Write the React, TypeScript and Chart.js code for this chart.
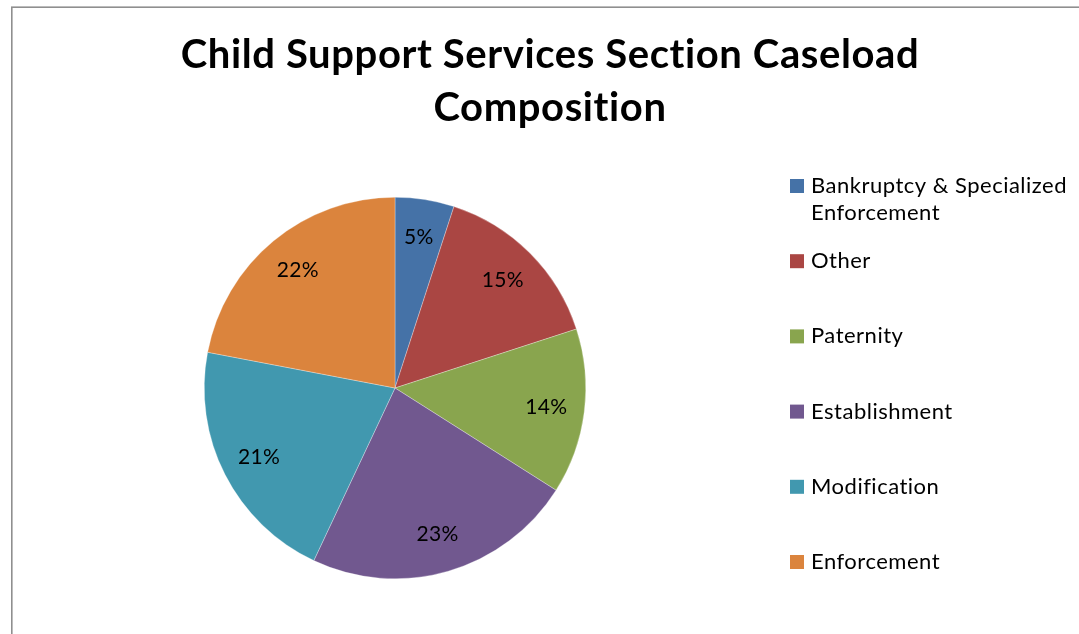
import React, { useEffect, useRef } from "react";
import { Chart, registerables } from "chart.js";

Chart.register(...registerables);

const titleLines = ["Child Support Services Section Caseload", "Composition"];
const categories = [
  "Bankruptcy & Specialized Enforcement",
  "Other",
  "Paternity",
  "Establishment",
  "Modification",
  "Enforcement",
];
const values = [5, 15, 14, 23, 21, 22];
const colors = ["#4572A7", "#AA4643", "#89A54E", "#71588F", "#4198AF", "#DB843D"];

const FONT = "Lato, 'Open Sans', 'DejaVu Sans', sans-serif";

const framePlugin = {
  id: "frame",
  beforeDraw(chart: any) {
    const ctx = chart.ctx;
    ctx.save();
    ctx.fillStyle = "#ffffff";
    ctx.fillRect(0, 0, chart.width, chart.height);
    ctx.strokeStyle = "#8f8f8f";
    ctx.lineWidth = 1.6;
    ctx.strokeRect(11.8, 7.2, 1200, 800);
    ctx.restore();
  },
};

const textPlugin = {
  id: "texts",
  afterDraw(chart: any) {
    const ctx = chart.ctx;
    ctx.save();
    // title
    ctx.fillStyle = "#000000";
    ctx.textAlign = "center";
    ctx.textBaseline = "alphabetic";
    ctx.font = `bold 40px ${FONT}`;
    (ctx as any).letterSpacing = "0.6px";
    titleLines.forEach((t, i) => ctx.fillText(t, 550, 68 + i * 53));

    // data labels
    const meta = chart.getDatasetMeta(0);
    const data = chart.data.datasets[0].data as number[];
    const total = data.reduce((a, b) => a + b, 0);
    ctx.font = `21px ${FONT}`;
    (ctx as any).letterSpacing = "0.3px";
    ctx.textBaseline = "middle";
    meta.data.forEach((arc: any, i: number) => {
      const p = arc.getProps(["x", "y", "startAngle", "endAngle", "outerRadius"], true);
      const mid = (p.startAngle + p.endAngle) / 2;
      const r = p.outerRadius * 0.8;
      const pct = Math.round((data[i] / total) * 100);
      ctx.fillText(pct + "%", p.x + Math.cos(mid) * r, p.y + Math.sin(mid) * r);
    });

    // legend
    const labels = chart.data.labels as string[];
    const bg = chart.data.datasets[0].backgroundColor as string[];
    ctx.font = `22px ${FONT}`;
    (ctx as any).letterSpacing = "0.5px";
    ctx.textAlign = "left";
    const startY = 186;
    const step = 75.2;
    const maxW = 265;
    labels.forEach((lab, i) => {
      const y = startY + i * step;
      ctx.fillStyle = bg[i];
      ctx.fillRect(790, y - 7, 14, 14);
      ctx.fillStyle = "#000000";
      const words = lab.split(" ");
      const lines: string[] = [];
      let cur = "";
      words.forEach((w) => {
        const test = cur ? cur + " " + w : w;
        if (ctx.measureText(test).width > maxW && cur) {
          lines.push(cur);
          cur = w;
        } else cur = test;
      });
      lines.push(cur);
      lines.forEach((ln, k) => ctx.fillText(ln, 811, y + k * 27));
    });
    ctx.restore();
  },
};

export default function App() {
  const ref = useRef<HTMLCanvasElement>(null);
  useEffect(() => {
    if (!ref.current) return;
    const chart = new Chart(ref.current, {
      type: "pie",
      data: {
        labels: categories,
        datasets: [
          {
            data: values,
            backgroundColor: colors,
            borderColor: "rgba(255,255,255,0.6)",
            borderWidth: 0.5,
          },
        ],
      },
      options: {
        responsive: false,
        animation: false,
        devicePixelRatio: 1,
        layout: { padding: { left: 204, right: 493, top: 197, bottom: 55 } },
        plugins: {
          legend: { display: false },
          title: { display: false },
          tooltip: { enabled: false },
        },
      },
      plugins: [framePlugin, textPlugin],
    });
    return () => chart.destroy();
  }, []);
  return (
    <div style={{ position: "fixed", left: 0, top: 0, width: 1079, height: 634, overflow: "hidden", background: "#fff" }}>
      <canvas ref={ref} width={1079} height={634} style={{ display: "block" }} />
    </div>
  );
}
